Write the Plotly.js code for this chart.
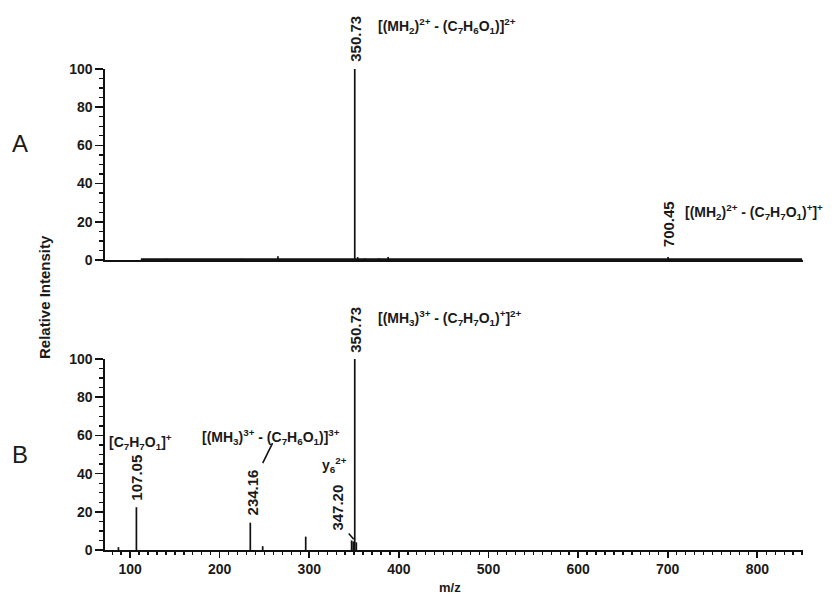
<!DOCTYPE html>
<html><head><meta charset="utf-8">
<script src="https://cdn.plot.ly/plotly-3.0.1.min.js"></script>
<style>body{margin:0;background:#fff}#c{width:838px;height:598px}</style>
</head><body><div id="c"></div>
<script>
// Spectrum A peaks (m/z, relative intensity)
const mzA  = [140, 200, 225, 245, 265, 290, 310, 350.73, 354, 362, 378, 388, 470, 520, 560, 700.45, 760, 800];
const intA = [0.6, 0.5, 0.6, 0.5, 2.0, 0.5, 0.5, 100, 1.5, 0.8, 0.8, 1.5, 0.5, 0.5, 0.5, 1.5, 0.5, 0.5];
const baseA_mz = [112, 850];
const baseA_int = [0.4, 0.4];
// Spectrum B peaks
const mzB  = [87, 107.05, 234.16, 248, 296, 347.20, 349, 350.73, 352.5];
const intB = [1.5, 22.4, 14.3, 2.0, 7.0, 5.0, 4.5, 100, 4.0];
const xTicks = [100,200,300,400,500,600,700,800];
const yTicks = [0,20,40,60,80,100];

function sticks(mz, it){
  const x=[], y=[];
  mz.forEach((m,i)=>{x.push(m,m,null); y.push(0,it[i],null);});
  return {x,y};
}
const sA = sticks(mzA, intA), sB = sticks(mzB, intB);
const ln = {color:'#111', width:1.7};
const traces = [
  {x:sA.x, y:sA.y, type:'scatter', mode:'lines', line:ln, xaxis:'x', yaxis:'y', hoverinfo:'skip', cliponaxis:false},
  {x:baseA_mz, y:baseA_int, type:'scatter', mode:'lines', line:{color:'#111', width:2}, xaxis:'x', yaxis:'y', hoverinfo:'skip'},
  {x:sB.x, y:sB.y, type:'scatter', mode:'lines', line:ln, xaxis:'x2', yaxis:'y2', hoverinfo:'skip', cliponaxis:false}
];

const FAM = 'Liberation Sans, Arial, sans-serif';
const FB = {family:FAM, size:14, color:'#1a1a1a', weight:'bold'};
const FN = {family:FAM, size:15, color:'#1a1a1a', weight:'bold'};
const W=838,H=598,ml=105,mr=35,mt=69,mb=48;
const px = x => (x-ml)/(W-ml-mr);
const py = y => (H-mb-y)/(H-mt-mb);
function b(t){return '<b>'+t+'</b>';}
function rot(x, y, text, xr, yr, shift){
  return {x:x, y:y, xref:xr, yref:yr, text:b(text), textangle:-90, showarrow:false,
          xanchor:'center', yanchor:'bottom', yshift:shift, font:FN};
}
function lab(xp, yp, text, anchor, font){
  return {x:px(xp), y:py(yp), xref:'paper', yref:'paper', text:text, showarrow:false,
          xanchor:anchor||'left', yanchor:'middle', font:font||FB};
}
const annotations = [
  rot(350.73, 100, '350.73', 'x', 'y', 5),
  lab(376, 26, b('[(MH<sub>2</sub>)<sup>2+</sup> - (C<sub>7</sub>H<sub>6</sub>O<sub>1</sub>)]<sup>2+</sup>')),
  rot(700.45, 1.5, '700.45', 'x', 'y', 8),
  lab(683, 212, b('[(MH<sub>2</sub>)<sup>2+</sup> - (C<sub>7</sub>H<sub>7</sub>O<sub>1</sub>)<sup>+</sup>]<sup>+</sup>')),
  rot(350.73, 100, '350.73', 'x2', 'y2', 4),
  lab(376, 318, b('[(MH<sub>3</sub>)<sup>3+</sup> - (C<sub>7</sub>H<sub>7</sub>O<sub>1</sub>)<sup>+</sup>]<sup>2+</sup>')),
  rot(107.05, 22.4, '107.05', 'x2', 'y2', 5),
  lab(140, 442, b('[C<sub>7</sub>H<sub>7</sub>O<sub>1</sub>]<sup>+</sup>'), 'center'),
  rot(236.9, 14.3, '234.16', 'x2', 'y2', 5),
  lab(271, 437, b('[(MH<sub>3</sub>)<sup>3+</sup> - (C<sub>7</sub>H<sub>6</sub>O<sub>1</sub>)]<sup>3+</sup>'), 'center'),
  lab(334, 465, b('y<sub>6</sub><sup>2+</sup>'), 'center'),
  rot(331.8, 9, '347.20', 'x2', 'y2', 0),
  lab(20, 143, 'A', 'center', {family:FAM, size:24, color:'#1a1a1a'}),
  lab(20, 455, 'B', 'center', {family:FAM, size:24, color:'#1a1a1a'}),
  Object.assign(lab(44, 297, b('Relative Intensity'), 'center', {family:FAM, size:15, color:'#1a1a1a', weight:'bold'}), {textangle:-90}),
  lab(450, 587, b('m/z'), 'center', {family:FAM, size:13, color:'#1a1a1a', weight:'bold'})
];
const shapes = [
  {type:'line', xref:'x2', yref:'y2', x0:248, y0:45.5, x1:259, y1:56, line:{color:'#111', width:1.6}},
  {type:'line', xref:'x2', yref:'y2', x0:344, y0:8.6, x1:349.6, y1:5.6, line:{color:'#111', width:1.6}}
];
const TF = {family:FAM, size:14, color:'#1a1a1a', weight:'bold'};
const yax = {range:[0,100], tickvals:yTicks, ticks:'outside', ticklen:8, tickwidth:1.6, tickcolor:'#111',
  showline:true, linecolor:'#111', linewidth:1.6, showgrid:false, zeroline:false,
  minor:{dtick:5, ticks:'outside', ticklen:4, tickwidth:1.3, tickcolor:'#111'}, tickfont:TF};
const layout = {
  width:W, height:H, margin:{l:ml, r:mr, t:mt, b:mb}, showlegend:false,
  paper_bgcolor:'#fff', plot_bgcolor:'#fff',
  xaxis:{domain:[0,1], anchor:'y', range:[72,851], showticklabels:false, ticks:'', showline:true, linecolor:'#111',
    linewidth:1.6, showgrid:false, zeroline:false},
  yaxis:Object.assign({domain:[0.603,1], anchor:'x'}, yax),
  xaxis2:{domain:[0,1], anchor:'y2', range:[72,851], tickvals:xTicks, ticks:'outside',
    ticklen:6, tickwidth:1.6, tickcolor:'#111', showline:true, linecolor:'#111', linewidth:1.6, showgrid:false, zeroline:false,
    minor:{dtick:10, ticks:'outside', ticklen:3, tickwidth:1.3, tickcolor:'#111'}, tickfont:TF},
  yaxis2:Object.assign({domain:[0,0.397], anchor:'x2'}, yax),
  annotations:annotations, shapes:shapes
};
Plotly.newPlot('c', traces, layout, {staticPlot:true, displayModeBar:false});
</script></body></html>
